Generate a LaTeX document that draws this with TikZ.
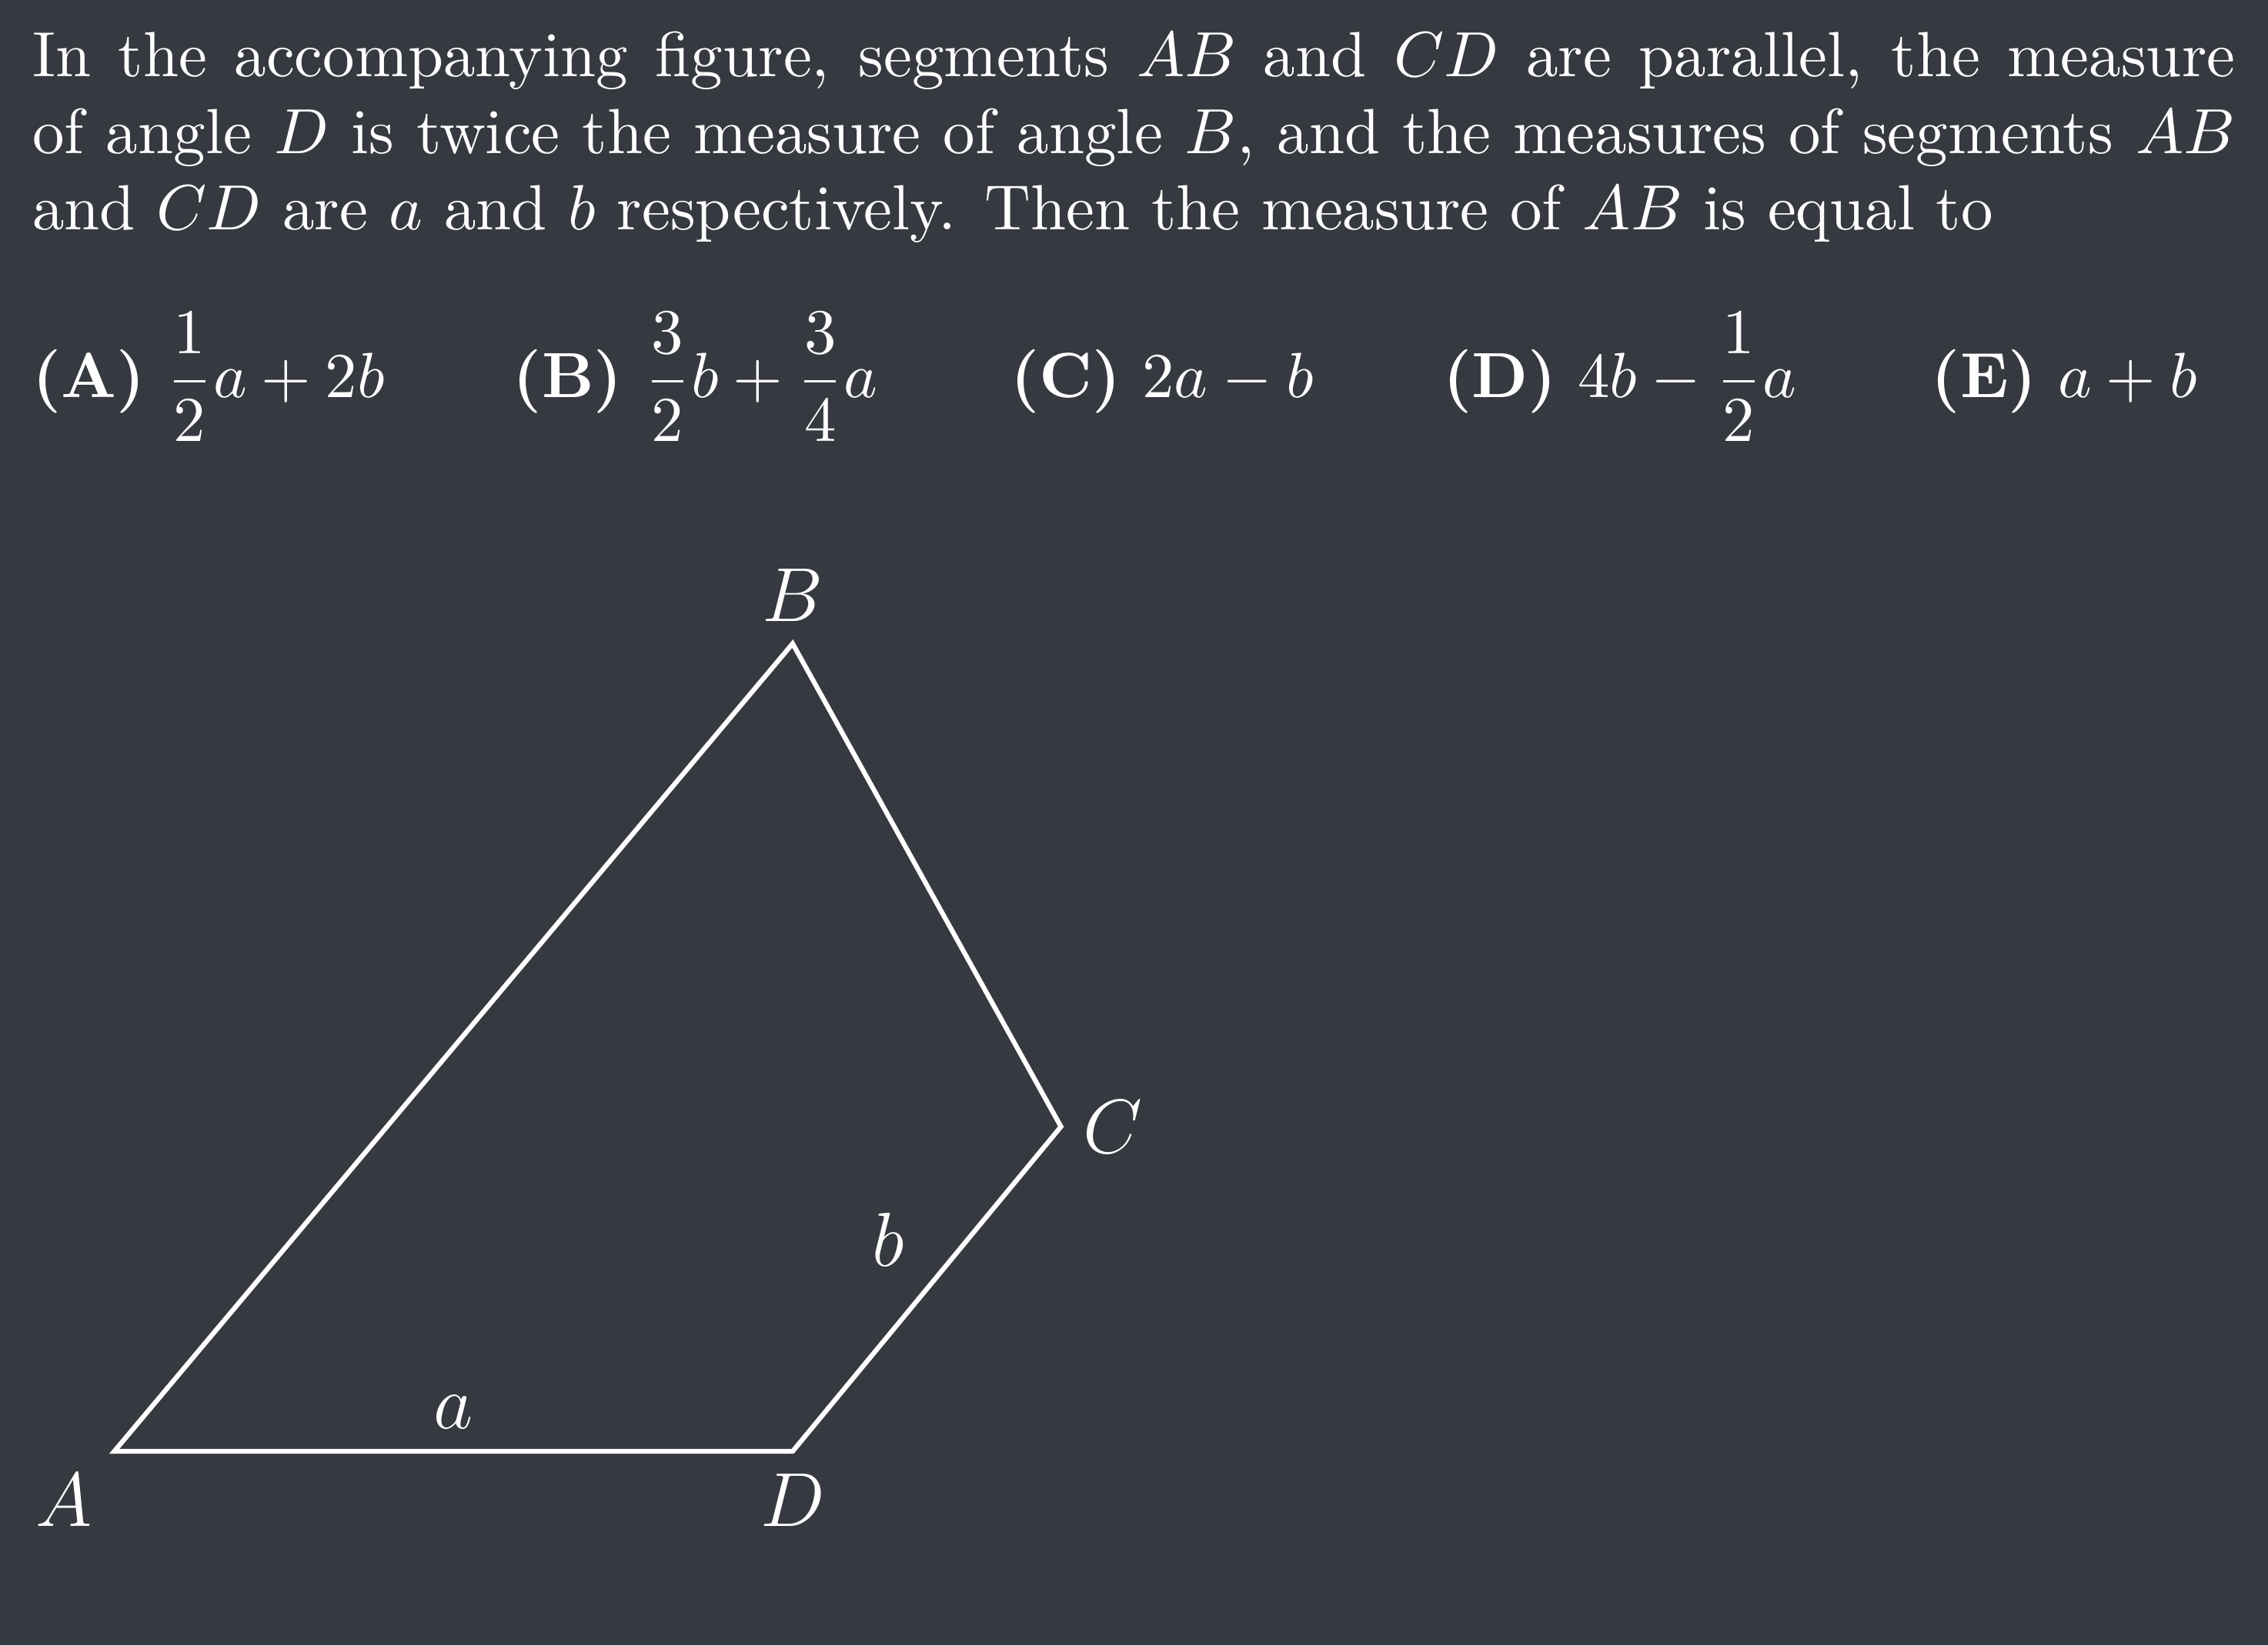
\documentclass[tikz,border=0pt]{standalone}
\usepackage{amsmath}
\usepackage{tikz}
\usetikzlibrary{positioning}
\definecolor{bgdark}{HTML}{36393F}

\begin{document}
\begin{tikzpicture}[x=0.22653pt, y=-0.22653pt,
	every node/.style={text=white},
	choice/.style={anchor=base west, inner sep=0pt},
	vlabel/.style={font=\large},
	side/.style={line width=0.75pt, draw=white}]
			%%%%% START %%%%%
			
			\fill[bgdark] (0, 0) rectangle (1568, 1137.6);
			\useasboundingbox (0, 0) rectangle (1568, 1137.6);
			
			\node[anchor=north west, inner sep=0pt, text width=345pt, align=justify] (question) at (21.5, 21)
			{In the accompanying figure, segments $AB$ and $CD$ are parallel, the measure\linebreak of angle $D$ is twice the measure of angle $B$, and the measures of segments $AB$\linebreak and $CD$ are $a$ and $b$ respectively. Then the measure of $AB$ is equal to};
			
			\node[choice] (optA) at (21.5, 274.6) {\textbf{(A)} $\dfrac{1}{2}a+2b$};
			\node[choice] (optB) at (354, 274.6) {\textbf{(B)} $\dfrac{3}{2}b+\dfrac{3}{4}a$};
			\node[choice] (optC) at (698, 274.6) {\textbf{(C)} $2a-b$};
			\node[choice] (optD) at (997, 274.6) {\textbf{(D)} $4b-\dfrac{1}{2}a$};
			\node[choice] (optE) at (1334.6, 274.6) {\textbf{(E)} $a+b$};
			
			\coordinate (A) at (79, 1003.5);
			\coordinate (D) at (548, 1003.5);
			\coordinate (C) at (733.5, 779);
			\coordinate (B) at (548, 445);
			
			\draw[side] (A) -- (B) -- (C) -- (D) -- cycle;
			
			\node[vlabel, above] (labB) at (B) {$B$};
			\node[vlabel, right] (labC) at (C) {$C$};
			\node[vlabel, below] (labD) at (D) {$D$};
			\node[vlabel, below left] (labA) at (A) {$A$};
			
			\path (A) -- (D) node[vlabel, midway, above] (laba) {$a$};
			\path (C) -- (D) node[vlabel, midway, above left] (labb) {$b$};
			
			%%%%% END %%%%%
\end{tikzpicture}
\end{document}
